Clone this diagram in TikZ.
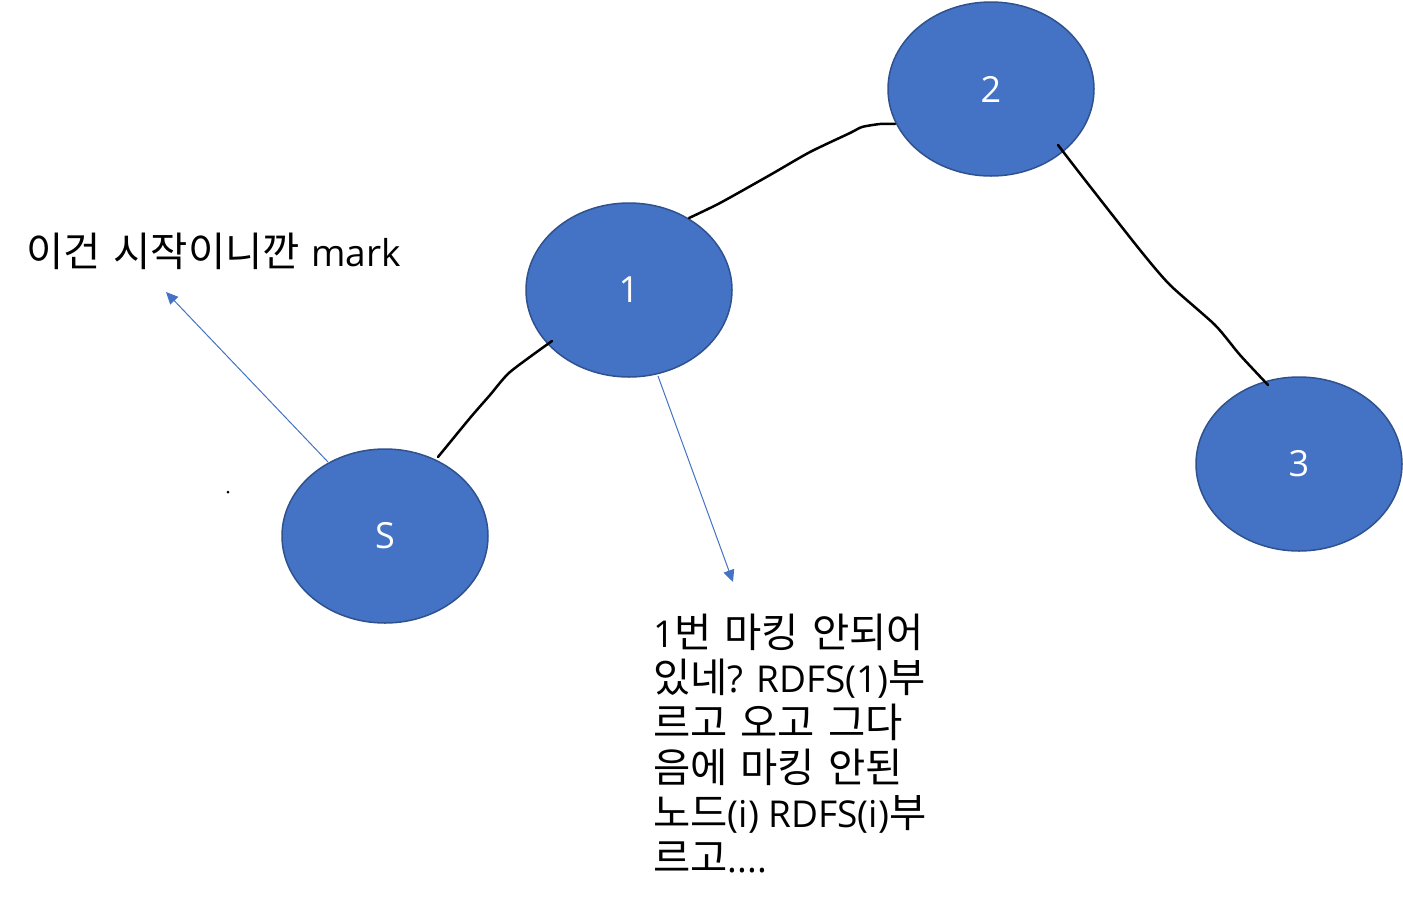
\documentclass[tikz,border=0pt]{standalone}
\usepackage{fontspec}
\setmainfont{Noto Sans CJK KR}
\newfontfamily\latnfont{Open Sans}
\newcommand{\latn}[1]{{\latnfont\fontsize{37}{45}\selectfont #1}}
\newcommand{\gap}{\hspace{13pt}}
\usetikzlibrary{arrows.meta,shapes.geometric}
\definecolor{nodeblue}{HTML}{4472C4}
\definecolor{nodeedge}{HTML}{2F528F}
\tikzset{
  circ/.style={ellipse, draw=nodeedge, line width=1.5pt, fill=nodeblue,
    minimum width=206pt, minimum height=174pt, inner sep=0pt,
    text=white, font=\latnfont\fontsize{36}{40}\selectfont},
  pen/.style={line width=2.5pt, black, line join=round, line cap=round},
  note/.style={draw=nodeblue, line width=1pt,
    -{Triangle[length=12pt,width=11pt]}},
  label/.style={inner sep=0pt, font=\fontsize{40.5}{45}\selectfont, align=left}
}
\begin{document}
\begin{tikzpicture}[x=1pt,y=-1pt]
\useasboundingbox (0,0) rectangle (1403,903);
\node[circ] (S) at (385,536) {S};
\node[circ] (n1) at (629,290) {1};
\node[circ] (n2) at (991,89) {2};
\node[circ] (n3) at (1299,464) {3};
\coordinate (s1a) at (438,457);
\coordinate (s1b) at (552,341);
\coordinate (a12) at (689,218);
\coordinate (b12) at (895,124);
\coordinate (a23) at (1058,145);
\coordinate (b23) at (1268,385);
\draw[pen] plot[smooth, tension=0.4] coordinates {(s1a) (470,418) (490,395) (510,372) (552,341)};
\draw[pen] plot[smooth, tension=0.4] coordinates {(a12) (720,203) (770,175) (810,152) (850,133) (862,127) (880,124) (b12)};
\draw[pen] plot[smooth, tension=0.4] coordinates {(a23) (1085,180) (1140,250) (1170,285) (1215,325) (1240,355) (b23)};
\node[label, anchor=base west] (t1) at (26,266) {이건\gap 시작이니깐\hspace{11pt}\latn{mark}};
\coordinate (tip1) at (166,292);
\coordinate (tip2) at (733,582);
\draw[note] (328,462) -- (tip1);
\draw[note] (658,376) -- (tip2);
\node[label, anchor=north west] (t2) at (653,614) {\latn{1}번\gap 마킹\gap 안되어\\있네\latn{? RDFS(1)}부\\르고\gap 오고\gap 그다\\음에\gap 마킹\gap 안된\\노드\latn{(i) RDFS(i)}부\\르고\latn{....}};
\fill[black] (228,492) circle (1.5pt);
\end{tikzpicture}
\end{document}
